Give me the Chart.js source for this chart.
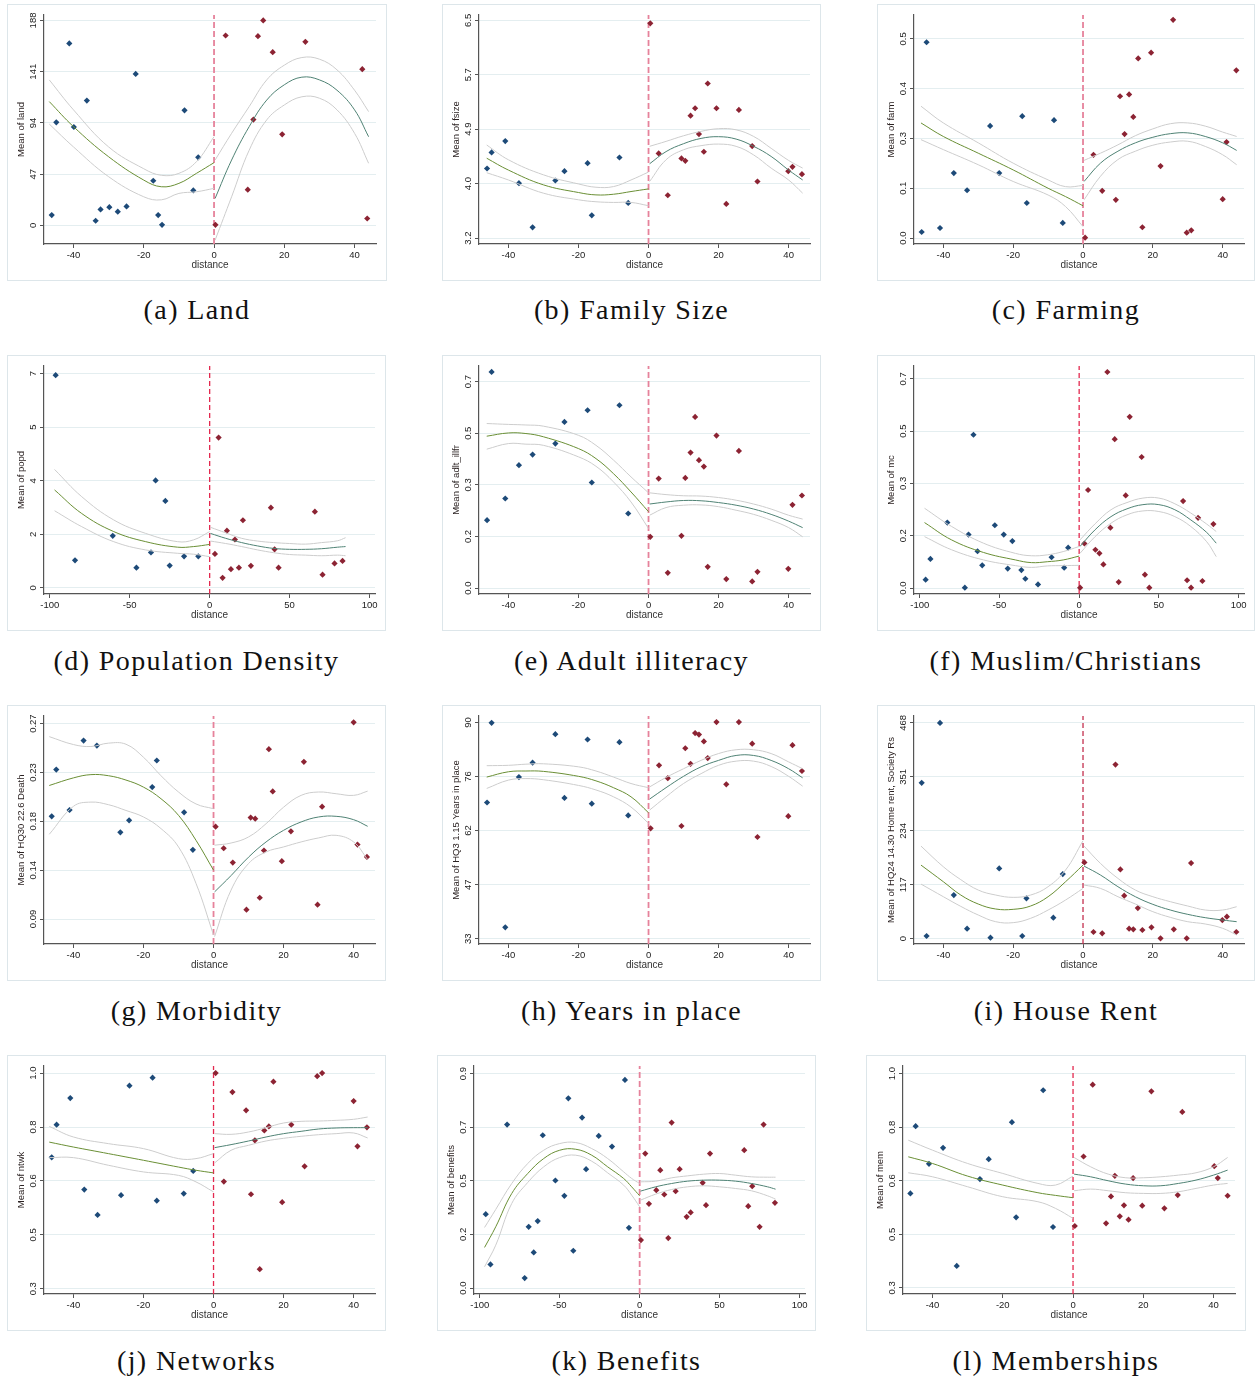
<!DOCTYPE html>
<html>
<head>
<meta charset="utf-8">
<script src="https://cdn.jsdelivr.net/npm/chart.js@4.4.0/dist/chart.umd.min.js"></script>
<style>
  body { margin: 0; background: #fff; width: 1255px; height: 1377px; position: relative; overflow: hidden; }
  .panel { position: absolute; border: 1px solid #dde6ea; background: #fff; }
  .panel canvas { display: block; }
  .cap { position: absolute; font-family: "Liberation Serif", "Times New Roman", serif; font-size: 28px;
         color: #111; text-align: center; letter-spacing: 1.4px; white-space: nowrap; }
</style>
</head>
<body>
<script>
// x tick sets
const narrowTicks = [-40, -20, 0, 20, 40];
const wideTicks = [-100, -50, 0, 50, 100];

// (a) Land
const landLeft = [[-46.2,9.5],[-44.9,94.6],[-41.2,166.9],[-39.9,90.3],[-36.2,114.5],[-33.7,4.3],[-32.3,14.7],[-29.8,16.8],[-27.4,12.6],[-24.9,17.5],[-22.3,139.0],[-17.3,41.0],[-15.9,9.5],[-14.8,0.6],[-8.4,105.6],[-5.9,32.1],[-4.5,62.5]];
const landRight = [[0.4,0.6],[3.3,174.2],[9.6,32.8],[11.2,97.1],[12.5,173.6],[14.0,188],[16.7,158.9],[19.4,83.6],[26.0,168.4],[42.2,143.3],[43.6,6.4]];
// rows: distance, fit, lower, upper
const landFitL = [[-46.9,113.6,93,133.5],[-40,90.6,72,106],[-30,63,44.7,72],[-20,41.6,26.3,52],[-15,35.5,23.5,46],[-10,38.6,29.4,47.8],[-5,47.8,30.9,58.5],[0,57.6,34,81.4]];
const landFitR = [[0.3,24.8,-13.5,60],[5,60,26.3,84.5],[10,90.6,69,109],[15,115,96.8,133.5],[20,129,110.5,147],[25,136,118,154],[30,133.5,116.7,152.5],[35,124,106,142.7],[40,106,84.5,124],[44,81.4,57,104.4]];
const landYTicks = [0, 47, 94, 141, 188];
const landYLabels = ['0', '47', '94', '141', '188'];

// (b) Family size
const fsizeLeft = [[-46.1,4.254],[-44.8,4.497],[-40.9,4.670],[-37.0,4.031],[-33.1,3.362],[-26.6,4.072],[-24.0,4.214],[-17.4,4.335],[-16.2,3.545],[-8.3,4.421],[-5.8,3.732]];
const fsizeRight = [[0.5,6.454],[2.9,4.482],[5.5,3.849],[9.4,4.406],[10.5,4.371],[12.0,5.055],[13.3,5.167],[14.4,4.776],[15.8,4.508],[16.9,5.542],[19.4,5.167],[22.2,3.717],[25.8,5.141],[29.6,4.594],[31.1,4.057],[39.9,4.214],[41.1,4.280],[43.8,4.168]];
const fsizeFitL = [[-46.2,4.41,4.19,4.61],[-40,4.23,4.08,4.386],[-30,4.006,3.88,4.158],[-20,3.89,3.78,4.02],[-15,3.854,3.75,3.97],[-10,3.864,3.74,3.98],[-5,3.905,3.74,4.08],[0,3.945,3.69,4.2]];
const fsizeFitR = [[0.3,4.325,4.057,4.59],[5,4.51,4.386,4.665],[10,4.63,4.538,4.75],[15,4.71,4.6,4.817],[20,4.736,4.624,4.857],[25,4.7,4.59,4.84],[30,4.59,4.46,4.74],[35,4.437,4.26,4.56],[40,4.23,4.08,4.376],[44,4.08,3.88,4.26]];
const fsizeYTicks = [3.2, 4.025, 4.85, 5.675, 6.5];
const fsizeYLabels = ['3.2', '4.0', '4.9', '5.7', '6.5'];

// (c) Farming
const farmLeft = [[-46.2,0.0151],[-44.8,0.4916],[-40.95,0.0252],[-37.0,0.163],[-33.2,0.120],[-26.6,0.2815],[-24.0,0.163],[-17.4,0.306],[-16.1,0.088],[-8.3,0.296],[-5.8,0.0378]];
const farmRight = [[0.6,0.0008],[3.0,0.209],[5.5,0.1185],[9.4,0.0958],[10.6,0.356],[11.9,0.261],[13.2,0.3605],[14.4,0.304],[15.8,0.451],[17.0,0.027],[19.5,0.4655],[22.2,0.1807],[25.8,0.548],[29.7,0.0134],[31.0,0.0193],[40.0,0.0975],[41.1,0.241],[43.9,0.421]];
const farmFitL = [[-46.4,0.289,0.247,0.331],[-40,0.255,0.222,0.289],[-30,0.213,0.184,0.239],[-20,0.171,0.142,0.188],[-10,0.125,0.108,0.146],[-5,0.104,0.079,0.129],[0,0.081,0.0286,0.132]];
const farmFitR = [[0.3,0.142,0.096,0.195],[5,0.188,0.155,0.213],[10,0.218,0.197,0.234],[15,0.239,0.218,0.257],[20,0.253,0.233,0.274],[25,0.262,0.241,0.287],[30,0.264,0.243,0.289],[35,0.255,0.23,0.281],[40,0.239,0.209,0.266],[44,0.22,0.184,0.255]];
const farmYTicks = [0, 0.125, 0.25, 0.375, 0.5];
const farmYLabels = ['0.0', '0.1', '0.3', '0.4', '0.5'];

// (d) Population density
const popdLeft = [[-96.3,6.95],[-84.2,0.90],[-60.6,1.70],[-45.8,0.66],[-36.7,1.16],[-33.8,3.51],[-27.7,2.84],[-25.0,0.73],[-16.0,1.03],[-7.1,1.03]];
const popdRight = [[3.3,1.11],[5.6,4.91],[8.1,0.33],[10.8,1.87],[13.3,0.61],[15.8,1.58],[18.3,0.66],[20.8,2.21],[25.8,0.72],[38.3,2.62],[40.6,1.26],[43.1,0.66],[65.8,2.49],[70.6,0.43],[78.1,0.80],[83.1,0.88]];
const popdFitL = [[-97,3.2,2.52,3.87],[-80,2.43,2.0,2.98],[-60,1.84,1.51,2.22],[-40,1.51,1.24,1.78],[-20,1.33,1.13,1.51],[-10,1.35,1.10,1.57],[0,1.42,1.02,1.84]];
const popdFitR = [[0.5,1.78,1.53,1.98],[10,1.62,1.45,1.80],[20,1.48,1.35,1.62],[30,1.37,1.24,1.53],[40,1.29,1.15,1.48],[50,1.26,1.09,1.45],[60,1.26,1.07,1.43],[70,1.28,1.05,1.48],[80,1.33,1.07,1.54],[85,1.35,1.05,1.64]];
const popdYTicks = [0, 1.75, 3.5, 5.25, 7];
const popdYLabels = ['0', '2', '4', '5', '7'];

// (e) Adult illiteracy
const illLeft = [[-46.1,0.2303],[-44.8,0.7328],[-40.9,0.3037],[-37.0,0.4166],[-33.1,0.4527],[-26.6,0.490],[-24.0,0.5634],[-17.4,0.6029],[-16.2,0.358],[-8.3,0.6199],[-5.8,0.2529]];
const illRight = [[0.5,0.1739],[2.9,0.3715],[5.5,0.0519],[9.4,0.1773],[10.5,0.3737],[12.0,0.4595],[13.3,0.5803],[14.4,0.4336],[15.8,0.4121],[16.9,0.0723],[19.4,0.5171],[22.2,0.0305],[25.8,0.4652],[29.6,0.0226],[31.1,0.0553],[39.9,0.0655],[41.1,0.2823],[43.8,0.3139]];
const illFitL = [[-46.2,0.515,0.471,0.558],[-40,0.526,0.49,0.555],[-35,0.524,0.488,0.553],[-30,0.513,0.484,0.549],[-20,0.473,0.445,0.518],[-15,0.439,0.413,0.484],[-10,0.388,0.36,0.434],[-5,0.326,0.292,0.377],[0,0.259,0.202,0.323]];
const illFitR = [[0.3,0.285,0.247,0.323],[5,0.292,0.273,0.317],[10,0.297,0.281,0.313],[15,0.296,0.282,0.312],[20,0.29,0.276,0.307],[25,0.281,0.264,0.298],[30,0.268,0.25,0.285],[35,0.25,0.23,0.268],[40,0.227,0.205,0.247],[44,0.205,0.174,0.234]];
const illYTicks = [0, 0.175, 0.35, 0.525, 0.7];
const illYLabels = ['0.0', '0.2', '0.3', '0.5', '0.7'];

// (f) Muslim/Christians
const mcLeft = [[-96.3,0.028],[-93.3,0.0973],[-82.7,0.219],[-71.7,0.001],[-69.4,0.179],[-66.3,0.513],[-63.75,0.123],[-60.8,0.076],[-52.9,0.210],[-47.3,0.179],[-44.8,0.065],[-41.9,0.157],[-36.25,0.060],[-33.75,0.031],[-25.8,0.012],[-17.3,0.103],[-9.4,0.068],[-6.9,0.135]];
const mcRight = [[0.6,0.001],[3.3,0.149],[5.6,0.328],[10.2,0.128],[12.7,0.116],[15.2,0.079],[17.7,0.723],[19.6,0.202],[22.3,0.498],[24.8,0.020],[29.2,0.310],[31.7,0.573],[39.2,0.4385],[41.25,0.0447],[44.0,0.001],[65.2,0.291],[67.7,0.026],[70.2,0.001],[74.6,0.235],[77.3,0.0235],[84.2,0.214]];
const mcFitL = [[-97,0.219,0.172,0.267],[-80,0.161,0.128,0.206],[-60,0.119,0.094,0.15],[-40,0.094,0.075,0.116],[-30,0.085,0.069,0.108],[-20,0.088,0.074,0.111],[-10,0.094,0.075,0.122],[0,0.107,0.076,0.139]];
const mcFitR = [[0.5,0.139,0.116,0.161],[10,0.195,0.172,0.215],[20,0.239,0.217,0.262],[30,0.265,0.245,0.286],[40,0.279,0.258,0.301],[50,0.279,0.256,0.301],[60,0.262,0.239,0.282],[70,0.228,0.206,0.251],[80,0.186,0.155,0.214],[86,0.15,0.105,0.189]];
const mcYTicks = [0, 0.175, 0.35, 0.525, 0.7];
const mcYLabels = ['0.0', '0.2', '0.3', '0.5', '0.7'];

// (g) Morbidity
const morbLeft = [[-46.2,0.1846],[-44.9,0.2277],[-41.1,0.1904],[-37.1,0.2544],[-33.3,0.2498],[-26.6,0.1699],[-24.1,0.1809],[-17.5,0.2115],[-16.2,0.236],[-8.4,0.1883],[-5.9,0.1537]];
const morbRight = [[0.6,0.1751],[2.9,0.1552],[5.5,0.142],[9.4,0.0986],[10.6,0.1834],[11.9,0.1824],[13.2,0.1096],[14.4,0.1531],[15.8,0.2464],[16.9,0.2075],[19.5,0.1433],[22.1,0.1708],[25.8,0.2348],[29.7,0.1032],[31.0,0.1935],[40.0,0.2712],[41.1,0.1586],[43.8,0.1472]];
const morbFitL = [[-46.9,0.213,0.168,0.258],[-40,0.220,0.1938,0.2507],[-35,0.223,0.1977,0.2489],[-30,0.222,0.1953,0.252],[-25,0.218,0.19,0.251],[-20,0.2115,0.184,0.239],[-15,0.2008,0.1733,0.222],[-10,0.1855,0.1564,0.207],[-5,0.1625,0.1228,0.196],[0,0.135,0.0753,0.1916]];
const morbFitR = [[0.3,0.115,0.0738,0.158],[5,0.130,0.1166,0.16],[10,0.147,0.1411,0.1656],[15,0.161,0.1518,0.1778],[20,0.1717,0.1564,0.193],[25,0.1794,0.161,0.2039],[30,0.184,0.1647,0.207],[35,0.1846,0.1671,0.2054],[40,0.1815,0.161,0.2039],[44,0.1754,0.1448,0.2078]];
const morbYTicks = [0.09, 0.135, 0.18, 0.225, 0.27];
const morbYLabels = ['0.09', '0.14', '0.18', '0.23', '0.27'];

// (h) Years in place
const yrsLeft = [[-46.1,68.9],[-44.8,89.9],[-40.9,36.0],[-37.0,75.6],[-33.1,79.4],[-26.6,86.9],[-24.0,70.1],[-17.4,85.5],[-16.2,68.6],[-8.3,84.8],[-5.8,65.5]];
const yrsRight = [[0.6,62.1],[3.0,78.7],[5.5,75.3],[9.4,62.7],[10.5,83.2],[12.0,79.1],[13.3,87.2],[14.4,86.8],[15.8,85.0],[16.9,80.6],[19.4,90.1],[22.2,73.7],[25.8,90.1],[29.6,84.4],[31.1,59.8],[39.9,65.3],[41.1,84.0],[43.8,77.2]];
const yrsFitL = [[-46.2,75.6,72.6,78.6],[-40,77.0,74.8,78.7],[-35,77.2,75.2,79.0],[-30,77.1,74.9,79.1],[-20,75.8,73.4,78.3],[-15,74.6,72.2,77.2],[-10,72.8,70.4,75.6],[-5,70.4,67.7,73.9],[0,66.2,63.4,72.8]];
const yrsFitR = [[0.3,69.8,66.9,73.0],[5,72.8,70.4,75.5],[10,75.8,73.9,77.8],[15,78.3,76.5,80.0],[20,80.0,78.7,81.8],[25,81.3,79.8,82.8],[30,81.3,79.8,82.8],[35,80.0,78.4,81.8],[40,77.8,75.8,79.6],[44,75.4,73.2,77.8]];
const yrsYTicks = [33, 47.25, 61.5, 75.75, 90];
const yrsYLabels = ['33', '47', '62', '76', '90'];

// (i) House rent
const rentLeft = [[-46.2,338],[-44.8,5.8],[-40.95,468],[-37.0,94.6],[-33.2,21.7],[-26.5,2.2],[-24.0,152.4],[-17.4,5.8],[-16.2,87.4],[-8.5,45.5],[-5.8,140.1]];
const rentRight = [[0.4,165.4],[3.0,14.4],[5.5,11.6],[9.3,377.7],[10.7,150.2],[11.8,93.2],[13.2,21.7],[14.4,20.2],[15.7,66.4],[17.0,18.8],[19.6,24.6],[22.2,0.7],[26.0,20.2],[29.7,0.7],[30.95,164],[39.9,40.4],[41.2,47.7],[43.9,14.4]];
const rentFitL = [[-46.4,159.6,118.4,200.8],[-40,123.5,91,156],[-35,94.6,70,128],[-30,75.1,51.3,105.4],[-25,64.3,36.8,94.6],[-20,63.6,34.7,89.6],[-15,70.8,44.1,94.6],[-10,91,62.1,112.7],[-5,123.5,83.8,148.8],[0,159.6,109,212.3]];
const rentFitR = [[0.3,157.4,116.3,200.8],[5,138,109,163.2],[10,112.7,91,130.7],[15,91,75.1,105.4],[20,74.4,58.5,91],[25,62.1,46.2,80.2],[30,52.7,36.8,70.8],[35,45.5,31.8,62.1],[40,40.4,22.4,62.1],[44,36.8,7.9,69.3]];
const rentYTicks = [0, 117, 234, 351, 468];
const rentYLabels = ['0', '117', '234', '351', '468'];

// (j) Networks
const ntwkLeft = [[-46.2,0.7267],[-44.8,0.8326],[-40.9,0.919],[-36.9,0.622],[-33.1,0.5398],[-26.4,0.6036],[-24.0,0.959],[-17.4,0.985],[-16.2,0.586],[-8.5,0.609],[-5.8,0.6824]];
const ntwkRight = [[0.6,1.0],[2.95,0.6478],[5.4,0.9384],[9.3,0.879],[10.7,0.6068],[11.8,0.7818],[13.2,0.3637],[14.5,0.814],[15.8,0.827],[17.1,0.972],[19.6,0.5809],[22.2,0.8326],[26.0,0.6975],[29.6,0.990],[31.0,1.0],[40.0,0.909],[41.1,0.7624],[43.8,0.824]];
const ntwkFitL = [[-46.9,0.776,0.7256,0.827],[-40,0.760,0.7256,0.7926],[-30,0.7386,0.7008,0.771],[-20,0.717,0.6792,0.7548],[-10,0.695,0.668,0.7224],[-5,0.6846,0.6468,0.7224],[0,0.676,0.6144,0.7386]];
const ntwkFitR = [[0.3,0.758,0.7083,0.8034],[5,0.7678,0.7494,0.8012],[10,0.7796,0.7656,0.8088],[15,0.7926,0.7796,0.8228],[20,0.8034,0.7883,0.838],[25,0.811,0.7948,0.8434],[30,0.8185,0.8,0.8444],[35,0.8218,0.8034,0.8466],[40,0.8228,0.8056,0.85],[44,0.8228,0.7894,0.8574]];
const ntwkYTicks = [0.3, 0.475, 0.65, 0.825, 1.0];
const ntwkYLabels = ['0.3', '0.5', '0.6', '0.8', '1.0'];

// (k) Benefits
const benLeft = [[-96.25,0.3102],[-93.3,0.0992],[-82.9,0.686],[-71.9,0.0419],[-69.4,0.2571],[-66.25,0.1495],[-63.75,0.2809],[-60.6,0.6414],[-52.7,0.4514],[-47.1,0.3871],[-44.6,0.7965],[-41.5,0.1565],[-36.0,0.7155],[-33.5,0.4989],[-25.6,0.6386],[-17.3,0.5939],[-9.2,0.8734],[-6.7,0.2529]];
const benRight = [[0.8,0.2012],[3.5,0.5646],[5.8,0.3536],[10.4,0.4108],[12.9,0.4947],[15.4,0.3927],[17.9,0.2096],[20.0,0.6945],[22.5,0.4066],[25.0,0.4989],[29.4,0.299],[31.9,0.3172],[39.4,0.4416],[41.5,0.348],[44.0,0.5646],[65.4,0.5785],[67.9,0.3438],[70.4,0.4276],[75.0,0.2571],[77.5,0.686],[84.6,0.3577]];
const benFitL = [[-97,0.1705,0.0894,0.2543],[-90,0.2571,0.18,0.33],[-80,0.3969,0.3549,0.4388],[-70,0.4807,0.443,0.5226],[-60,0.5436,0.5087,0.5785],[-50,0.5785,0.5478,0.6065],[-40,0.5827,0.5576,0.6107],[-30,0.5576,0.5324,0.5855],[-20,0.5087,0.4835,0.5436],[-10,0.4598,0.4318,0.4877],[-5,0.4248,0.39,0.46],[0,0.3871,0.341,0.4388]];
const benFitR = [[0.5,0.4067,0.3689,0.4458],[10,0.4248,0.3941,0.4486],[20,0.4388,0.4136,0.4626],[30,0.4486,0.4248,0.4709],[40,0.4528,0.429,0.4779],[50,0.4528,0.4248,0.4807],[60,0.4486,0.4178,0.4737],[70,0.4388,0.408,0.4667],[80,0.4248,0.3871,0.4653],[85,0.415,0.3731,0.4653]];
const benYTicks = [0, 0.225, 0.45, 0.675, 0.9];
const benYLabels = ['0.0', '0.2', '0.5', '0.7', '0.9'];

// (l) Memberships
const memLeft = [[-46.3,0.6087],[-44.8,0.8283],[-41.0,0.7054],[-37.0,0.7576],[-33.1,0.3717],[-26.5,0.6554],[-24.0,0.7207],[-17.4,0.8413],[-16.2,0.5304],[-8.5,0.9457],[-5.7,0.4989]];
const memRight = [[0.5,0.5022],[3.0,0.7293],[5.6,0.9641],[9.4,0.5109],[10.8,0.5989],[11.9,0.6663],[13.3,0.5337],[14.5,0.5696],[15.8,0.5228],[17.1,0.6587],[19.7,0.5685],[22.3,0.9424],[26.0,0.5598],[29.8,0.6033],[31.1,0.875],[40.2,0.6978],[41.2,0.6587],[44.0,0.6011]];
const memFitL = [[-46.9,0.7283,0.6761,0.7826],[-40,0.7065,0.663,0.75],[-30,0.6652,0.6304,0.7065],[-20,0.6359,0.5978,0.6739],[-10,0.6109,0.5815,0.6413],[-5,0.6022,0.5598,0.6359],[0,0.5946,0.5272,0.6652]];
const memFitR = [[0.3,0.6717,0.6174,0.7261],[5,0.663,0.6228,0.6957],[10,0.65,0.6174,0.6717],[15,0.6391,0.6109,0.6598],[20,0.6337,0.6087,0.6598],[25,0.6337,0.6087,0.663],[30,0.6413,0.6141,0.6685],[35,0.6522,0.625,0.6761],[40,0.6685,0.6359,0.6957],[44,0.6848,0.6413,0.7261]];
const memYTicks = [0.3, 0.475, 0.65, 0.825, 1.0];
const memYLabels = ['0.3', '0.5', '0.6', '0.8', '1.0'];

const panels = [
  {cap: '(a) Land', title: 'Mean of land', l: landLeft, r: landRight, fl: landFitL, fr: landFitR, yt: landYTicks, yl: landYLabels, y0: -17, y1: 193, wide: false, box: [7, 4, 380, 277], thin: false},
  {cap: '(b) Family Size', title: 'Mean of fsize', l: fsizeLeft, r: fsizeRight, fl: fsizeFitL, fr: fsizeFitR, yt: fsizeYTicks, yl: fsizeYLabels, y0: 3.11, y1: 6.58, wide: false, box: [442, 4, 379, 277], thin: false},
  {cap: '(c) Farming', title: 'Mean of farm', l: farmLeft, r: farmRight, fl: farmFitL, fr: farmFitR, yt: farmYTicks, yl: farmYLabels, y0: -0.015, y1: 0.56, wide: false, box: [877, 4, 378, 277], thin: false},
  {cap: '(d) Population Density', title: 'Mean of popd', l: popdLeft, r: popdRight, fl: popdFitL, fr: popdFitR, yt: popdYTicks, yl: popdYLabels, y0: -0.2, y1: 7.25, wide: true, box: [7, 355, 379, 276], thin: true},
  {cap: '(e) Adult illiteracy', title: 'Mean of adlt_illfr', l: illLeft, r: illRight, fl: illFitL, fr: illFitR, yt: illYTicks, yl: illYLabels, y0: -0.02, y1: 0.753, wide: false, box: [442, 355, 379, 276], thin: false},
  {cap: '(f) Muslim/Christians', title: 'Mean of mc', l: mcLeft, r: mcRight, fl: mcFitL, fr: mcFitR, yt: mcYTicks, yl: mcYLabels, y0: -0.02, y1: 0.743, wide: true, box: [877, 355, 378, 276], thin: true},
  {cap: '(g) Morbidity', title: 'Mean of HQ30 22.6 Death', l: morbLeft, r: morbRight, fl: morbFitL, fr: morbFitR, yt: morbYTicks, yl: morbYLabels, y0: 0.067, y1: 0.277, wide: false, box: [7, 705, 379, 276], thin: false},
  {cap: '(h) Years in place', title: 'Mean of HQ3 1.15 Years in place', l: yrsLeft, r: yrsRight, fl: yrsFitL, fr: yrsFitR, yt: yrsYTicks, yl: yrsYLabels, y0: 31.6, y1: 91.7, wide: false, box: [442, 705, 379, 276], thin: false},
  {cap: '(i) House Rent', title: 'Mean of HQ24 14.30 Home rent, Society Rs', l: rentLeft, r: rentRight, fl: rentFitL, fr: rentFitR, yt: rentYTicks, yl: rentYLabels, y0: -11.6, y1: 483, wide: false, box: [877, 705, 378, 276], thin: true, dark: true},
  {cap: '(j) Networks', title: 'Mean of ntwk', l: ntwkLeft, r: ntwkRight, fl: ntwkFitL, fr: ntwkFitR, yt: ntwkYTicks, yl: ntwkYLabels, y0: 0.283, y1: 1.023, wide: false, box: [7, 1055, 379, 276], thin: true},
  {cap: '(k) Benefits', title: 'Mean of benefits', l: benLeft, r: benRight, fl: benFitL, fr: benFitR, yt: benYTicks, yl: benYLabels, y0: -0.025, y1: 0.932, wide: true, box: [437, 1055, 379, 276], thin: false},
  {cap: '(l) Memberships', title: 'Mean of mem', l: memLeft, r: memRight, fl: memFitL, fr: memFitR, yt: memYTicks, yl: memYLabels, y0: 0.28, y1: 1.025, wide: false, box: [866, 1055, 380, 276], thin: true}
];

const FONT = '"Liberation Sans", Arial, sans-serif';

// rotated y tick labels, y title and x title, placed off the chart's own scales
const axisText = {
  id: 'axisText',
  afterDraw(chart, args, opts) {
    const {ctx, chartArea: a} = chart;
    const y = chart.scales.y;
    ctx.save();
    ctx.textAlign = 'center';
    ctx.textBaseline = 'middle';
    ctx.fillStyle = '#222';
    ctx.font = '9.5px ' + FONT;
    y.ticks.forEach((t, i) => {
      ctx.save();
      ctx.translate(a.left - 11, y.getPixelForValue(t.value));
      ctx.rotate(-Math.PI / 2);
      ctx.fillText(opts.labels[i], 0, 0);
      ctx.restore();
    });
    ctx.fillStyle = '#2b2222';
    ctx.save();
    ctx.translate(a.left - 22.5, (a.top + a.bottom) / 2);
    ctx.rotate(-Math.PI / 2);
    ctx.fillText(opts.title, 0, 0);
    ctx.restore();
    ctx.fillStyle = '#333';
    ctx.font = '10px ' + FONT;
    ctx.fillText('distance', (a.left + a.right) / 2, a.bottom + 21);
    ctx.restore();
  }
};

function lineSet(rows, col, color) {
  return {
    type: 'line',
    data: rows.map(r => ({x: r[0], y: r[col]})),
    borderColor: color,
    borderWidth: 1,
    pointRadius: 0,
    tension: 0.4,
    fill: false
  };
}

function dotSet(pts, color) {
  return {
    type: 'scatter',
    data: pts.map(p => ({x: p[0], y: p[1]})),
    backgroundColor: color,
    borderColor: color,
    borderWidth: 0,
    pointStyle: 'rectRot',
    pointRadius: 3.1
  };
}

panels.forEach(p => {
  const [left, top, w, h] = p.box;
  const div = document.createElement('div');
  div.className = 'panel';
  div.style.left = left + 'px';
  div.style.top = top + 'px';
  div.style.width = (w - 2) + 'px';
  div.style.height = (h - 2) + 'px';
  const cv = document.createElement('canvas');
  cv.width = w - 2;
  cv.height = h - 2;
  div.appendChild(cv);
  document.body.appendChild(div);

  const cap = document.createElement('div');
  cap.className = 'cap';
  cap.textContent = p.cap;
  cap.style.left = left + 'px';
  cap.style.width = w + 'px';
  cap.style.top = (top + 290) + 'px';
  document.body.appendChild(cap);

  const ciColor = '#cdcdcd';
  const zeroColor = p.thin ? (p.dark ? '#c4304f' : '#e3294f') : '#e6829b';
  const xt = p.wide ? wideTicks : narrowTicks;

  new Chart(cv, {
    type: 'scatter',
    data: {
      datasets: [
        lineSet(p.fl, 2, ciColor),
        lineSet(p.fl, 3, ciColor),
        lineSet(p.fr, 2, ciColor),
        lineSet(p.fr, 3, ciColor),
        lineSet(p.fl, 1, '#6a8f35'),
        lineSet(p.fr, 1, '#4f8274'),
        dotSet(p.l, '#1d4a78'),
        dotSet(p.r, '#8c2333'),
        {
          type: 'line',
          data: [{x: 0, y: p.y0}, {x: 0, y: p.y1}],
          borderColor: zeroColor,
          borderWidth: p.thin ? 1.3 : 1.8,
          borderDash: p.thin ? [5, 3] : [6, 3],
          pointRadius: 0
        }
      ]
    },
    options: {
      responsive: false,
      animation: false,
      devicePixelRatio: 1,
      layout: {padding: {top: 10, right: 10, left: 0, bottom: 0}},
      plugins: {
        legend: {display: false},
        tooltip: {enabled: false},
        axisText: {labels: p.yl, title: p.title}
      },
      scales: {
        x: {
          type: 'linear',
          min: p.wide ? -103.6 : -48.4,
          max: p.wide ? 103.4 : 46.1,
          afterBuildTicks: s => { s.ticks = xt.map(v => ({value: v})); },
          afterFit: s => { s.height = 36; },
          ticks: {
            autoSkip: false, maxRotation: 0, padding: 2,
            color: '#222', font: {family: FONT, size: 9.5},
            callback: v => String(v)
          },
          grid: {drawOnChartArea: false, drawTicks: true, tickLength: 4, tickColor: '#555'},
          border: {color: '#555', width: 1.2}
        },
        y: {
          type: 'linear',
          min: p.y0,
          max: p.y1,
          afterBuildTicks: s => { s.ticks = p.yt.map(v => ({value: v})); },
          afterFit: s => { s.width = 36; },
          ticks: {display: false},
          grid: {color: '#e4eef0', lineWidth: 1, drawTicks: true, tickLength: 4, tickColor: '#555'},
          border: {color: '#555', width: 1.2}
        }
      }
    },
    plugins: [axisText]
  });
});
</script>
</body>
</html>
